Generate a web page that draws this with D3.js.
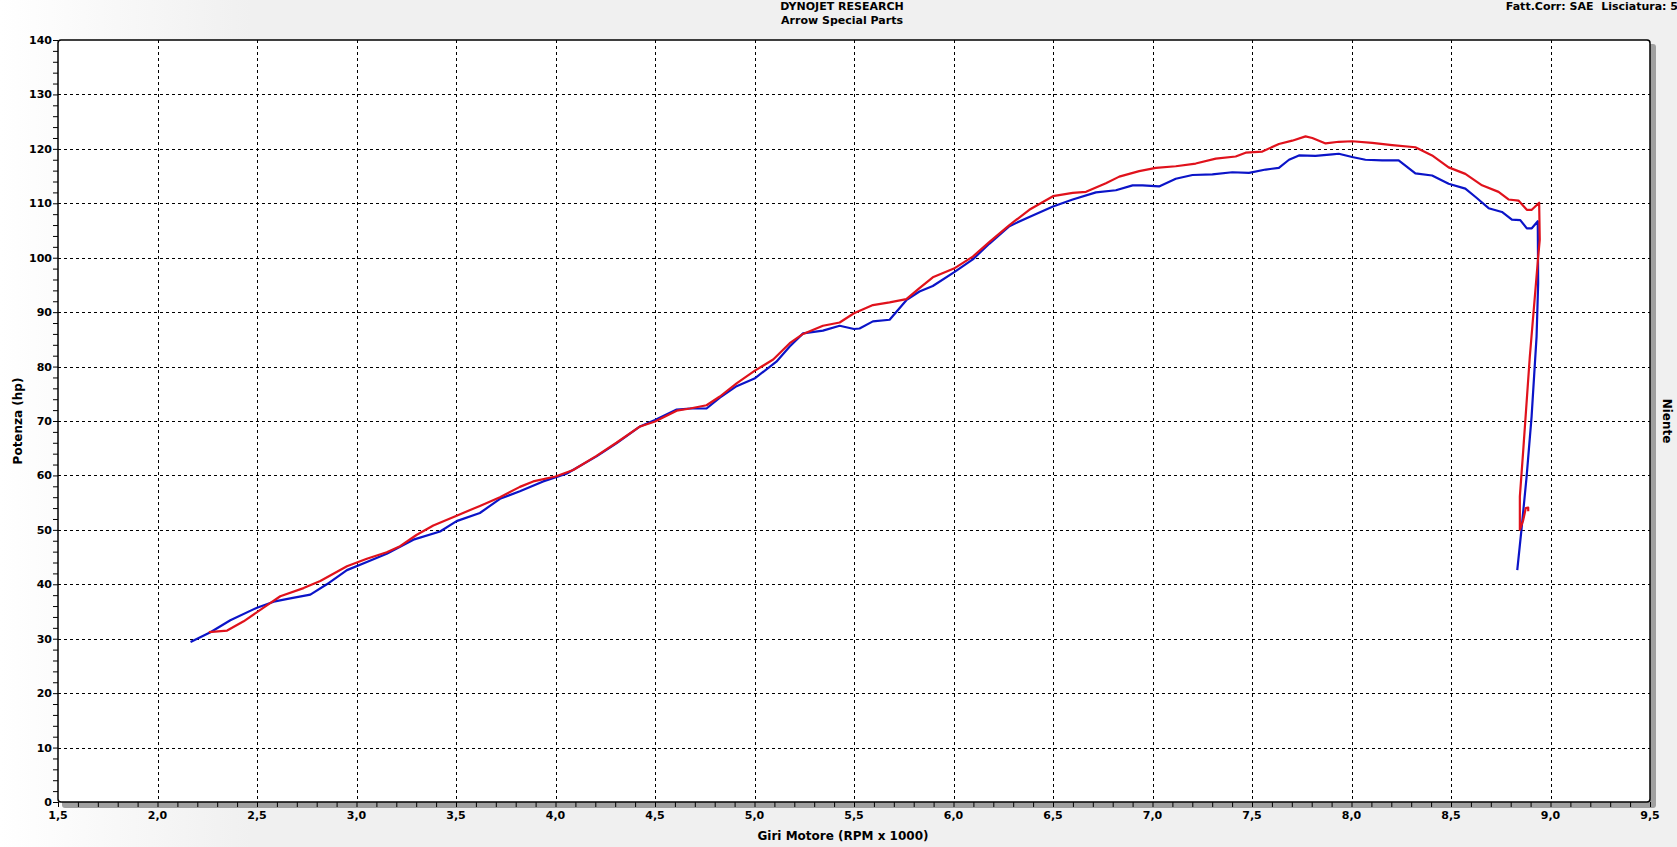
<!DOCTYPE html>
<html>
<head>
<meta charset="utf-8">
<script src="https://cdn.jsdelivr.net/npm/d3@7.9.0/dist/d3.min.js"></script>
<style>
  body { margin: 0; background: #f0f0f0; }
  text { font-family: "DejaVu Sans", Verdana, sans-serif; font-weight: bold; fill: #000; }
</style>
</head>
<body>
<div id="chart"></div>
<script>
// run 1 (blue) - rpm x 1000 / hp
const blueRpm = [2.166, 2.266, 2.366, 2.5, 2.584, 2.667, 2.768, 2.851, 2.952, 3.052, 3.152, 3.286, 3.42, 3.503,
  3.62, 3.721, 3.821, 3.938, 4.055, 4.206, 4.306, 4.425, 4.5, 4.609, 4.676, 4.759, 4.826, 4.91, 5.0, 5.11,
  5.177, 5.244, 5.344, 5.428, 5.5, 5.528, 5.595, 5.679, 5.763, 5.829, 5.896, 6.002, 6.097, 6.181, 6.281,
  6.381, 6.5, 6.599, 6.716, 6.816, 6.9, 6.95, 7.033, 7.117, 7.201, 7.301, 7.401, 7.485, 7.569, 7.635,
  7.686, 7.736, 7.819, 7.903, 7.936, 8.003, 8.07, 8.154, 8.237, 8.321, 8.405, 8.488, 8.572, 8.622,
  8.689, 8.756, 8.806, 8.848, 8.881, 8.906, 8.936, 8.938, 8.93, 8.905, 8.88, 8.854, 8.833];
const blueHp = [29.4, 31.2, 33.4, 35.7, 36.8, 37.4, 38.1, 40.0, 42.6, 44.1, 45.6, 48.2, 49.7, 51.6,
  53.1, 55.7, 57.1, 58.9, 60.3, 63.5, 65.9, 69.0, 70.2, 72.1, 72.3, 72.3, 74.3, 76.4, 77.8, 80.9,
  83.7, 86.1, 86.6, 87.5, 86.9, 87.0, 88.3, 88.6, 92.2, 93.8, 94.8, 97.3, 99.7, 102.6, 105.8,
  107.5, 109.4, 110.7, 112.0, 112.4, 113.3, 113.3, 113.1, 114.5, 115.2, 115.3, 115.7, 115.6, 116.2, 116.5,
  118.0, 118.8, 118.7, 119.0, 119.1, 118.5, 118.0, 117.9, 117.9, 115.5, 115.1, 113.6, 112.7, 111.2,
  109.1, 108.4, 107.0, 106.9, 105.4, 105.4, 106.7, 95.3, 85.5, 70.8, 59.8, 50.0, 42.6];

// run 2 (red)
const redRpm = [2.258, 2.35, 2.433, 2.533, 2.617, 2.734, 2.818, 2.952, 3.052, 3.152, 3.219, 3.303, 3.386,
  3.503, 3.62, 3.721, 3.821, 3.888, 4.0, 4.089, 4.206, 4.306, 4.425, 4.5, 4.609, 4.676, 4.759, 4.826,
  4.91, 5.0, 5.094, 5.177, 5.244, 5.344, 5.428, 5.5, 5.595, 5.679, 5.763, 5.829, 5.896, 6.002, 6.097,
  6.181, 6.281, 6.381, 6.5, 6.599, 6.666, 6.766, 6.833, 6.933, 7.017, 7.117, 7.217, 7.318, 7.418, 7.468,
  7.552, 7.635, 7.702, 7.769, 7.803, 7.87, 7.936, 8.003, 8.104, 8.204, 8.321, 8.405, 8.488, 8.572,
  8.656, 8.739, 8.789, 8.839, 8.881, 8.906, 8.943, 8.946, 8.938, 8.896, 8.863, 8.846, 8.846, 8.863,
  8.876, 8.888, 8.888];
const redHp = [31.2, 31.5, 33.2, 35.7, 37.8, 39.3, 40.6, 43.3, 44.7, 45.9, 47.0, 49.1, 50.8,
  52.6, 54.4, 56.0, 57.9, 58.9, 59.8, 61.0, 63.6, 66.0, 69.0, 69.9, 71.9, 72.3, 72.9, 74.5,
  76.9, 79.2, 81.3, 84.3, 86.0, 87.5, 88.1, 89.8, 91.3, 91.8, 92.4, 94.4, 96.4, 98.0, 100.2,
  102.9, 106.0, 108.8, 111.3, 111.9, 112.1, 113.7, 114.9, 115.9, 116.5, 116.8, 117.3, 118.2, 118.6, 119.3,
  119.5, 120.9, 121.5, 122.3, 122.0, 121.0, 121.3, 121.4, 121.1, 120.7, 120.3, 118.8, 116.6, 115.4,
  113.3, 112.1, 110.7, 110.5, 108.8, 108.8, 110.1, 103.3, 100.1, 81.8, 64.6, 56.1, 50.0, 51.8,
  54.0, 54.1, 53.4];

const xTicks = [1.5, 2.0, 2.5, 3.0, 3.5, 4.0, 4.5, 5.0, 5.5, 6.0, 6.5, 7.0, 7.5, 8.0, 8.5, 9.0, 9.5];
const yTicks = [0, 10, 20, 30, 40, 50, 60, 70, 80, 90, 100, 110, 120, 130, 140];

const W = 1677, H = 847;
const margin = {top: 40, right: 27, bottom: 45, left: 58};

const svg = d3.select("#chart").append("svg")
    .attr("width", W)
    .attr("height", H);

// window background, slightly lighter on the left
const grad = svg.append("defs").append("linearGradient")
    .attr("id", "bg").attr("x1", 0).attr("x2", 1).attr("y1", 0).attr("y2", 0);
grad.append("stop").attr("offset", "0").attr("stop-color", "#ffffff");
grad.append("stop").attr("offset", "0.15").attr("stop-color", "#f0f0f0");
grad.append("stop").attr("offset", "1").attr("stop-color", "#f0f0f0");
svg.append("rect").attr("width", W).attr("height", H).attr("fill", "url(#bg)");

const x = d3.scaleLinear().domain([1.5, 9.5]).range([margin.left, W - margin.right]);
const y = d3.scaleLinear().domain([0, 140]).range([H - margin.bottom, margin.top]);

const x0 = x(1.5), x1 = x(9.5), y0 = y(0), y1 = y(140);

// drop shadow right + bottom
svg.append("rect")
    .attr("x", x0 + 4).attr("y", y1 + 4)
    .attr("width", x1 - x0 + 2).attr("height", y0 - y1 + 2)
    .attr("rx", 3)
    .attr("fill", "#a0a0a0");

// plot area
svg.append("rect")
    .attr("x", x0).attr("y", y1)
    .attr("width", x1 - x0).attr("height", y0 - y1)
    .attr("rx", 3)
    .attr("fill", "#fff");

// grid
const grid = svg.append("g")
    .attr("stroke", "#000")
    .attr("stroke-width", 1)
    .attr("stroke-dasharray", "3,3")
    .attr("shape-rendering", "crispEdges");
grid.selectAll("line.v")
    .data(xTicks.slice(1, -1))
    .join("line")
      .attr("class", "v")
      .attr("x1", d => Math.round(x(d)) + 0.5).attr("x2", d => Math.round(x(d)) + 0.5)
      .attr("y1", y1).attr("y2", y0);
grid.selectAll("line.h")
    .data(yTicks.slice(1, -1))
    .join("line")
      .attr("class", "h")
      .attr("x1", x0).attr("x2", x1)
      .attr("y1", d => Math.round(y(d)) + 0.5).attr("y2", d => Math.round(y(d)) + 0.5);

// axes with minor ticks
const xAxis = d3.axisBottom(x)
    .tickValues(d3.range(15, 96).map(d => d / 10))
    .tickSize(5)
    .tickFormat("");
svg.append("g")
    .attr("transform", `translate(0,${y0})`)
    .call(xAxis)
    .call(g => g.select(".domain").remove())
    .call(g => g.selectAll("line").attr("stroke-width", 1));

const yAxis = d3.axisLeft(y)
    .tickValues(d3.range(0, 141, 2))
    .tickSize(5)
    .tickFormat("");
svg.append("g")
    .attr("transform", `translate(${x0},0)`)
    .call(yAxis)
    .call(g => g.select(".domain").remove())
    .call(g => g.selectAll("line").attr("stroke-width", 1));

// frame
svg.append("rect")
    .attr("x", x0).attr("y", y1)
    .attr("width", x1 - x0).attr("height", y0 - y1)
    .attr("rx", 3)
    .attr("fill", "none")
    .attr("stroke", "#000")
    .attr("stroke-width", 1.5);

// tick labels
svg.append("g").selectAll("text")
    .data(xTicks)
    .join("text")
      .attr("x", d => x(d))
      .attr("y", y0 + 17)
      .attr("text-anchor", "middle")
      .style("font-size", "11px")
      .text(d => d3.format(".1f")(d).replace(".", ","));

svg.append("g").selectAll("text")
    .data(yTicks)
    .join("text")
      .attr("x", x0 - 6)
      .attr("y", d => y(d) + 4)
      .attr("text-anchor", "end")
      .style("font-size", "11px")
      .text(d => d);

// curves
const line = d3.line()
    .x(d => x(d[0]))
    .y(d => y(d[1]));

svg.append("path")
    .datum(blueRpm.map((r, i) => [r, blueHp[i]]))
    .attr("d", line)
    .attr("fill", "none")
    .attr("stroke", "#0b14c8")
    .attr("stroke-width", 2.2)
    .attr("stroke-linejoin", "round");

svg.append("path")
    .datum(redRpm.map((r, i) => [r, redHp[i]]))
    .attr("d", line)
    .attr("fill", "none")
    .attr("stroke", "#e0121c")
    .attr("stroke-width", 2.2)
    .attr("stroke-linejoin", "round");

// titles
svg.append("text")
    .attr("x", 842).attr("y", 10)
    .attr("text-anchor", "middle")
    .style("font-size", "11px")
    .text("DYNOJET RESEARCH");
svg.append("text")
    .attr("x", 842).attr("y", 24)
    .attr("text-anchor", "middle")
    .style("font-size", "11px")
    .text("Arrow Special Parts");
svg.append("text")
    .attr("x", W + 1).attr("y", 10)
    .attr("text-anchor", "end")
    .style("font-size", "11px")
    .attr("xml:space", "preserve")
    .text("Fatt.Corr: SAE  Lisciatura: 5");

svg.append("text")
    .attr("x", (x0 + x1) / 2 - 11).attr("y", H - 7)
    .attr("text-anchor", "middle")
    .style("font-size", "12px")
    .text("Giri Motore (RPM x 1000)");

svg.append("text")
    .attr("transform", `translate(22,${(y0 + y1) / 2}) rotate(-90)`)
    .attr("text-anchor", "middle")
    .style("font-size", "12px")
    .text("Potenza (hp)");

svg.append("text")
    .attr("transform", `translate(1663,${(y0 + y1) / 2}) rotate(90)`)
    .attr("text-anchor", "middle")
    .style("font-size", "12px")
    .text("Niente");
</script>
</body>
</html>
